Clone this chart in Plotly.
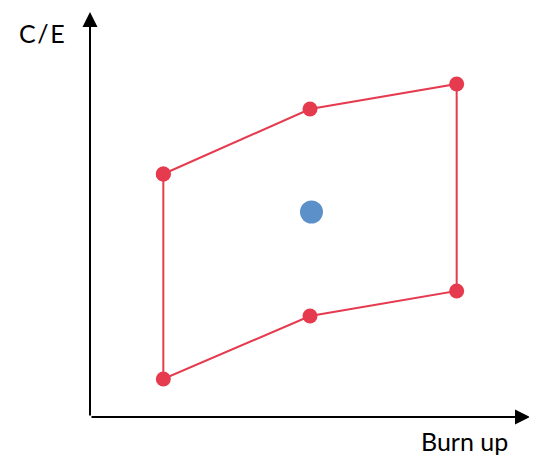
import plotly.graph_objects as go

# red envelope, walked round in order (burn up, C/E)
env_x = [0.5, 1.5, 2.5, 2.5, 1.5, 0.5, 0.5]
env_y = [2.43, 3.08, 3.33, 1.26, 1.01, 0.38, 2.43]

# blue reference point
mid_x = [1.51]
mid_y = [2.05]

x_max = 3.0
y_max = 4.05

red = "#e63a4f"
blue = "#5b90c8"

fig = go.Figure()
fig.add_trace(go.Scatter(x=env_x, y=env_y, mode="lines+markers",
                         line=dict(color=red, width=2),
                         marker=dict(color=red, size=15),
                         hoverinfo="skip", cliponaxis=False))
fig.add_trace(go.Scatter(x=mid_x, y=mid_y, mode="markers",
                         marker=dict(color=blue, size=23),
                         hoverinfo="skip"))

# axes drawn as arrows
for tx, ty in [(x_max, 0), (0, y_max)]:
    fig.add_annotation(x=tx, y=ty, ax=0, ay=0, xref="x", yref="y",
                       axref="x", ayref="y", showarrow=True, text="",
                       arrowhead=2, arrowsize=1.5, arrowwidth=2,
                       arrowcolor="black")

fig.add_annotation(x=-0.052, y=0.948, xref="paper", yref="paper",
                   text="C\u200a/\u200aE",
                   showarrow=False, xanchor="right", yanchor="middle",
                   font=dict(family="Lato", size=25, color="black"))
fig.add_annotation(x=0.955, y=-0.06, xref="paper", yref="paper", text="Burn up",
                   showarrow=False, xanchor="right", yanchor="middle",
                   font=dict(family="Lato", size=25, color="black"))

fig.update_xaxes(range=[0, x_max], visible=False)
fig.update_yaxes(range=[0, y_max], visible=False)
fig.update_layout(width=537, height=456, showlegend=False,
                  plot_bgcolor="white", paper_bgcolor="white",
                  margin=dict(l=82, r=15, t=4, b=47))

fig.write_html("out.html")
